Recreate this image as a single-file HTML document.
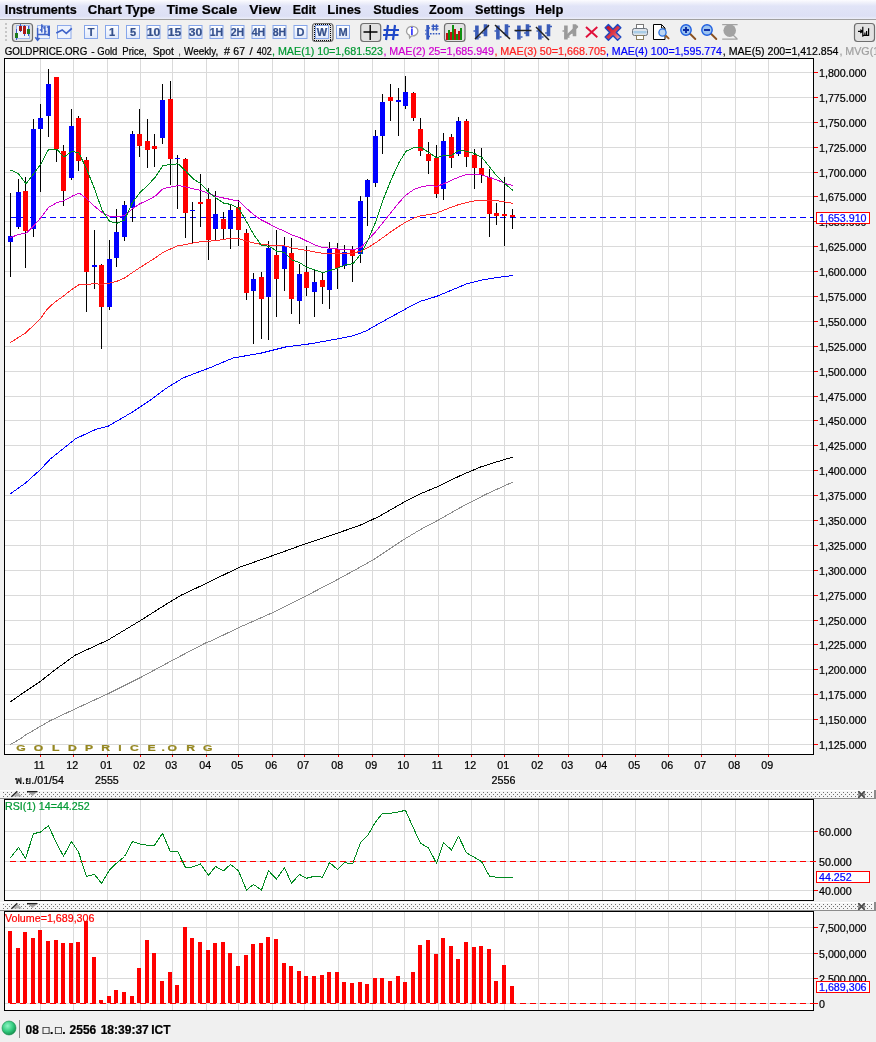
<!DOCTYPE html>
<html lang="th"><head><meta charset="utf-8"><title>GOLDPRICE.ORG - Gold Price, Spot, Weekly</title>
<style>html,body{margin:0;padding:0;background:#f0f0f0;overflow:hidden}svg{display:block}text{font-family:"Liberation Sans", "DejaVu Sans", sans-serif;stroke-width:.22px}</style>
</head><body>
<svg width="876" height="1042" viewBox="0 0 876 1042">
<defs>
<linearGradient id="mb" x1="0" y1="0" x2="0" y2="1"><stop offset="0" stop-color="#fcfcff"/><stop offset="0.12" stop-color="#f1f2fb"/><stop offset="0.32" stop-color="#e1e4f7"/><stop offset="0.85" stop-color="#dde0f5"/><stop offset="1" stop-color="#eceef9"/></linearGradient>
<linearGradient id="tb" x1="0" y1="0" x2="0" y2="1"><stop offset="0" stop-color="#ffffff"/><stop offset="1" stop-color="#dfe8fb"/></linearGradient>
<pattern id="dots790" x="3" y="792" width="4" height="4" patternUnits="userSpaceOnUse"><rect width="1" height="1" fill="#707070"/><rect x="2" y="2" width="1" height="1" fill="#707070"/></pattern>
<pattern id="dots902" x="3" y="904" width="4" height="4" patternUnits="userSpaceOnUse"><rect width="1" height="1" fill="#707070"/><rect x="2" y="2" width="1" height="1" fill="#707070"/></pattern>
<radialGradient id="ball" cx="0.4" cy="0.35" r="0.7"><stop offset="0" stop-color="#90f5c4"/><stop offset="0.55" stop-color="#34cc80"/><stop offset="1" stop-color="#128a48"/></radialGradient>
<linearGradient id="bigx" x1="0" y1="0.5" x2="1" y2="0.5"><stop offset="0" stop-color="#c40c1c"/><stop offset="0.6" stop-color="#e04050"/><stop offset="1" stop-color="#f4a0a8"/></linearGradient>
</defs>
<rect width="876" height="1042" fill="#f0f0f0"/>
<rect x="0" y="0" width="876" height="19" fill="url(#mb)"/>
<rect x="0" y="19" width="876" height="1" fill="#a0a0a0"/>
<text x="4.7" y="13.8" font-size="13" font-weight="bold" fill="#000" stroke="#000" textLength="72" lengthAdjust="spacingAndGlyphs">Instruments</text>
<text x="87.7" y="13.8" font-size="13" font-weight="bold" fill="#000" stroke="#000" textLength="67.3" lengthAdjust="spacingAndGlyphs">Chart Type</text>
<text x="166.7" y="13.8" font-size="13" font-weight="bold" fill="#000" stroke="#000" textLength="70.6" lengthAdjust="spacingAndGlyphs">Time Scale</text>
<text x="249.3" y="13.8" font-size="13" font-weight="bold" fill="#000" stroke="#000" textLength="31.4" lengthAdjust="spacingAndGlyphs">View</text>
<text x="292.7" y="13.8" font-size="13" font-weight="bold" fill="#000" stroke="#000" textLength="23.3" lengthAdjust="spacingAndGlyphs">Edit</text>
<text x="327.3" y="13.8" font-size="13" font-weight="bold" fill="#000" stroke="#000" textLength="33.7" lengthAdjust="spacingAndGlyphs">Lines</text>
<text x="373.3" y="13.8" font-size="13" font-weight="bold" fill="#000" stroke="#000" textLength="45.4" lengthAdjust="spacingAndGlyphs">Studies</text>
<text x="429" y="13.8" font-size="13" font-weight="bold" fill="#000" stroke="#000" textLength="34.3" lengthAdjust="spacingAndGlyphs">Zoom</text>
<text x="475" y="13.8" font-size="13" font-weight="bold" fill="#000" stroke="#000" textLength="50" lengthAdjust="spacingAndGlyphs">Settings</text>
<text x="535.3" y="13.8" font-size="13" font-weight="bold" fill="#000" stroke="#000" textLength="28" lengthAdjust="spacingAndGlyphs">Help</text>
<g shape-rendering="crispEdges">
<rect x="5" y="23" width="2" height="2" fill="#c6c6c6"/>
<rect x="5" y="27" width="2" height="2" fill="#c6c6c6"/>
<rect x="5" y="31" width="2" height="2" fill="#c6c6c6"/>
<rect x="5" y="35" width="2" height="2" fill="#c6c6c6"/>
<rect x="5" y="39" width="2" height="2" fill="#c6c6c6"/>
</g>
<rect x="12.5" y="23.5" width="20" height="18" rx="3" ry="3" fill="#e2e2e2" stroke="#6e6e6e" stroke-width="1.2"/>
<g shape-rendering="crispEdges">
<rect x="16" y="25" width="14" height="14" fill="#9db8ee"/>
<rect x="17" y="26" width="12" height="12" fill="#f0f4fc"/>
<rect x="16" y="29" width="1" height="11" fill="#3a5fcc"/>
<rect x="20" y="24" width="1" height="8" fill="#3a5fcc"/>
<rect x="24" y="25" width="1" height="11" fill="#3a5fcc"/>
<rect x="28" y="26" width="1" height="10" fill="#3a5fcc"/>
<rect x="15" y="33" width="3" height="5" fill="#1d7a1d"/>
<rect x="19" y="26" width="3" height="5" fill="#a01818"/>
<rect x="23" y="26" width="3" height="8" fill="#b01818"/>
<rect x="27" y="29" width="3" height="5" fill="#1d7a1d"/>
</g>
<rect x="37.5" y="25.5" width="12" height="13" fill="#eef3fd" stroke="#9db8ee" stroke-width="1"/>
<g fill="none" stroke="#3f63c8">
<path d="M37.6 28 V40 M35.3 37.3 L37.6 40.3 L39.6 38" stroke-width="1.5"/>
<path d="M41.8 24.3 V32.5 M39.8 30 H41.8 M41.8 26.5 H43.6 M44.9 26 V34 M43.3 28 H44.9 M44.9 31.5 H46.5" stroke-width="1.5"/>
<path d="M48.9 26 V36" stroke-width="2.2"/>
<path d="M38 34.5 H50 M46.8 27 H48.9" stroke-width="1.3"/>
</g>
<rect x="57.5" y="25.5" width="13.5" height="13" fill="#eef3fd" stroke="#8eaaea" stroke-width="1"/>
<path d="M56.3 33 L62.2 30 L66.3 33.4 L71.8 28.3" fill="none" stroke="#3f63c8" stroke-width="1.6"/>
<rect x="312.5" y="23.5" width="20.5" height="18" rx="3" ry="3" fill="#e2e2e2" stroke="#6e6e6e" stroke-width="1.2"/>
<rect x="84.5" y="25.5" width="13" height="13" fill="url(#tb)" stroke="#86a6ea" stroke-width="1"/>
<rect x="105.5" y="25.5" width="13" height="13" fill="url(#tb)" stroke="#86a6ea" stroke-width="1"/>
<rect x="126.5" y="25.5" width="13" height="13" fill="url(#tb)" stroke="#86a6ea" stroke-width="1"/>
<rect x="147" y="25.5" width="13" height="13" fill="url(#tb)" stroke="#86a6ea" stroke-width="1"/>
<rect x="168" y="25.5" width="13" height="13" fill="url(#tb)" stroke="#86a6ea" stroke-width="1"/>
<rect x="189" y="25.5" width="13" height="13" fill="url(#tb)" stroke="#86a6ea" stroke-width="1"/>
<rect x="210" y="25.5" width="13" height="13" fill="url(#tb)" stroke="#86a6ea" stroke-width="1"/>
<rect x="231" y="25.5" width="13" height="13" fill="url(#tb)" stroke="#86a6ea" stroke-width="1"/>
<rect x="252" y="25.5" width="13" height="13" fill="url(#tb)" stroke="#86a6ea" stroke-width="1"/>
<rect x="273" y="25.5" width="13" height="13" fill="url(#tb)" stroke="#86a6ea" stroke-width="1"/>
<rect x="294" y="25.5" width="13" height="13" fill="url(#tb)" stroke="#86a6ea" stroke-width="1"/>
<rect x="315.5" y="25.5" width="13" height="13" fill="url(#tb)" stroke="#86a6ea" stroke-width="1"/>
<rect x="336.5" y="25.5" width="13" height="13" fill="url(#tb)" stroke="#86a6ea" stroke-width="1"/>
<rect x="314.5" y="24.5" width="16" height="16" fill="none" stroke="#000" stroke-width="1" stroke-dasharray="1 1" shape-rendering="crispEdges"/>
<g font-size="11" font-weight="bold" fill="#34508c" stroke="#34508c" text-anchor="middle">
<text x="91" y="36.3">T</text>
<text x="112" y="36.3">1</text>
<text x="133" y="36.3">5</text>
<text x="153.5" y="36.3" textLength="13.5" lengthAdjust="spacingAndGlyphs">10</text>
<text x="174.5" y="36.3" textLength="13.5" lengthAdjust="spacingAndGlyphs">15</text>
<text x="195.5" y="36.3" textLength="13.5" lengthAdjust="spacingAndGlyphs">30</text>
<text x="216.5" y="36.3" textLength="13.5" lengthAdjust="spacingAndGlyphs">1H</text>
<text x="237.5" y="36.3" textLength="13.5" lengthAdjust="spacingAndGlyphs">2H</text>
<text x="258.5" y="36.3" textLength="13.5" lengthAdjust="spacingAndGlyphs">4H</text>
<text x="279.5" y="36.3" textLength="13.5" lengthAdjust="spacingAndGlyphs">8H</text>
<text x="300.5" y="36.3">D</text>
<text x="322" y="36.3">W</text>
<text x="343" y="36.3">M</text>
</g>
<rect x="360.7" y="23.5" width="20" height="18" rx="3" ry="3" fill="#e2e2e2" stroke="#6e6e6e" stroke-width="1.2"/>
<path d="M370.2 25 V40 M363.5 32 H377.5" stroke="#000" stroke-width="1.4" fill="none"/>
<path d="M388 25 L386 40 M395 25 L393 40 M383.5 30 H399 M383 35 H398.5" stroke="#1f48c8" stroke-width="2.2" fill="none"/>
<path d="M412.3 26.3 a5.6 4.8 0 1 1 -0.8 9.55 L409.6 38 L409.3 35.2 a5.6 4.8 0 0 1 3 -8.9z" fill="#fff" stroke="#a0a0a0" stroke-width="1.3"/>
<text x="412" y="34.8" font-size="10" font-weight="bold" fill="#1a1aff" stroke="#1a1aff" text-anchor="middle">i</text>
<path d="M427.7 25 V39.6" stroke="#3458c0" stroke-width="2.8" fill="none"/>
<path d="M425.3 30.5 h1 M425.3 34 h1 M429 28 h1 M429 36.5 h1" stroke="#3458c0" stroke-width="1.5"/>
<path d="M433.3 24.2 V30.8 M436.5 24.2 V30.8 M431.5 26.3 H438.5 M431.5 28.9 H438.5" stroke="#3458c0" stroke-width="1.4" fill="none"/>
<path d="M430 33.8 H441" stroke="#3458c0" stroke-width="1.6" stroke-dasharray="1.6 1.2" fill="none"/>
<rect x="444.5" y="23.5" width="20.5" height="18" rx="3" ry="3" fill="#e2e2e2" stroke="#6e6e6e" stroke-width="1.2"/>
<g shape-rendering="crispEdges">
<rect x="446" y="33" width="2" height="7" fill="#c01010"/>
<rect x="448" y="30" width="2" height="10" fill="#109010"/>
<rect x="450" y="32" width="2" height="8" fill="#c01010"/>
<rect x="452" y="25" width="2" height="15" fill="#109010"/>
<rect x="454" y="29" width="2" height="11" fill="#c01010"/>
<rect x="456" y="34" width="2" height="6" fill="#109010"/>
<rect x="458" y="31" width="2" height="9" fill="#c01010"/>
<rect x="460" y="28" width="2" height="12" fill="#109010"/>
</g>
<path d="M476.9 25.5 V39.5 M485.5 24.3 V36.3" stroke="#3a5cb8" stroke-width="3.6" fill="none"/>
<path d="M473.5 31 h2 M478.5 37 h2 M487 26.5 h2 M482.1 33 h2" stroke="#3a5cb8" stroke-width="1.7" fill="none"/>
<path d="M475 39 L489 25" stroke="#222" stroke-width="1.5"/>
<path d="M497.9 25.5 V39.5 M506.5 24.3 V36.3" stroke="#3a5cb8" stroke-width="3.6" fill="none"/>
<path d="M494.5 31 h2 M499.5 37 h2 M508 26.5 h2 M503.1 33 h2" stroke="#3a5cb8" stroke-width="1.7" fill="none"/>
<path d="M495 25 L510 39" stroke="#222" stroke-width="1.5"/>
<path d="M518.9 25.5 V39.5 M527.5 24.3 V36.3" stroke="#3a5cb8" stroke-width="3.6" fill="none"/>
<path d="M515.5 31 h2 M520.5 37 h2 M529 26.5 h2 M524.1 33 h2" stroke="#3a5cb8" stroke-width="1.7" fill="none"/>
<path d="M514.5 30.5 H531.5" stroke="#222" stroke-width="1.5"/>
<path d="M539.9 25.5 V39.5 M548.5 24.3 V36.3" stroke="#3a5cb8" stroke-width="3.6" fill="none"/>
<path d="M536.5 31 h2 M541.5 37 h2 M550 26.5 h2 M545.1 33 h2" stroke="#3a5cb8" stroke-width="1.7" fill="none"/>
<path d="M536 27 L549 40" stroke="#222" stroke-width="1.5"/>
<path d="M565.9 25.5 V39.5 M574.5 24.3 V36.3" stroke="#9a9a9a" stroke-width="3.6" fill="none"/>
<path d="M562.5 31 h2 M567.5 37 h2 M576 26.5 h2 M571.1 33 h2" stroke="#9a9a9a" stroke-width="1.7" fill="none"/>
<path d="M565 38 L577.5 26" stroke="#9a9a9a" stroke-width="2.6"/>
<path d="M586 27 L597.3 37.3 M597.3 27 L586 37.3" stroke="#e0103a" stroke-width="1.9" fill="none"/>
<polygon transform="translate(613 32.4) rotate(45)" points="-2.3,-8.8 2.3,-8.8 2.3,-2.3 8.8,-2.3 8.8,2.3 2.3,2.3 2.3,8.8 -2.3,8.8 -2.3,2.3 -8.8,2.3 -8.8,-2.3 -2.3,-2.3" fill="url(#bigx)" stroke="#1f48c0" stroke-width="1.4" stroke-linejoin="round"/>
<rect x="636.5" y="24.5" width="7" height="5" fill="#fff" stroke="#777" stroke-width="1"/>
<rect x="632.5" y="28.5" width="15" height="7" rx="2" fill="#dde3ea" stroke="#6a737c" stroke-width="1"/>
<rect x="633.5" y="31" width="13" height="2.4" fill="#a9cde6"/>
<rect x="636.5" y="35.5" width="7" height="4" fill="#fff" stroke="#8a8060" stroke-width="1"/>
<path d="M653.5 24.5 H661.5 L665 28 V39.5 H653.5 Z" fill="#fff" stroke="#000" stroke-width="1"/>
<path d="M661.5 24.5 V28 H665" fill="none" stroke="#000" stroke-width="0.9"/>
<path d="M665.3 35.3 L668.6 38.4" stroke="#9a5a20" stroke-width="1.9" stroke-linecap="round"/>
<circle cx="662.5" cy="32.5" r="3.6" fill="#bcd6f2" stroke="#2a70e0" stroke-width="1.3"/>
<path d="M689.8 33.5 L695.3 39" stroke="#8a5020" stroke-width="1.9" stroke-linecap="round"/>
<circle cx="686" cy="30" r="5.2" fill="#9cc4f0" stroke="#1f5fe0" stroke-width="1.4"/>
<path d="M683 30 h6 M686 27 v6" stroke="#0a2aa0" stroke-width="1.9"/>
<path d="M710.8 33.5 L716.3 39" stroke="#8a5020" stroke-width="1.9" stroke-linecap="round"/>
<circle cx="707" cy="30" r="5.2" fill="#9cc4f0" stroke="#1f5fe0" stroke-width="1.4"/>
<path d="M704 30 h6" stroke="#0a2aa0" stroke-width="1.9"/>
<circle cx="729.7" cy="30.6" r="6.3" fill="#a2a2a2"/>
<path d="M722.2 24.6 H737.6 M722.2 39.2 H737.6 M732.5 34.5 L737.3 39" stroke="#a2a2a2" stroke-width="1.2" fill="none"/>
<rect x="854.5" y="23.5" width="20" height="18" rx="3" ry="3" fill="#e2e2e2" stroke="#6e6e6e" stroke-width="1.2"/>
<path d="M858 31.3 H862.6 M860.3 29.6 L862.4 31.3 L860.3 33 M862.8 26.7 V36.7 M864.9 32.5 V35.6 M866.6 31 V35.6 M868.6 28.3 V35.6 M863 35.3 H869.2" stroke="#000" stroke-width="1.2" fill="none"/>
<g font-size="10.7">
<text x="4.7" y="55" fill="#000" stroke="#000" textLength="82.6" lengthAdjust="spacingAndGlyphs">GOLDPRICE.ORG</text>
<text x="91.3" y="55" fill="#000" stroke="#000" textLength="3.4" lengthAdjust="spacingAndGlyphs">-</text>
<text x="97.3" y="55" fill="#000" stroke="#000" textLength="20" lengthAdjust="spacingAndGlyphs">Gold</text>
<text x="122.3" y="55" fill="#000" stroke="#000" textLength="24.4" lengthAdjust="spacingAndGlyphs">Price,</text>
<text x="152.7" y="55" fill="#000" stroke="#000" textLength="21.3" lengthAdjust="spacingAndGlyphs">Spot</text>
<text x="179" y="55" fill="#000" stroke="#000" textLength="1.5" lengthAdjust="spacingAndGlyphs">,</text>
<text x="184" y="55" fill="#000" stroke="#000" textLength="34.3" lengthAdjust="spacingAndGlyphs">Weekly,</text>
<text x="224" y="55" fill="#000" stroke="#000" textLength="6" lengthAdjust="spacingAndGlyphs">#</text>
<text x="233.3" y="55" fill="#000" stroke="#000" textLength="11.7" lengthAdjust="spacingAndGlyphs">67</text>
<text x="249.6" y="55" fill="#000" stroke="#000" textLength="3.2" lengthAdjust="spacingAndGlyphs">/</text>
<text x="256.7" y="55" fill="#000" stroke="#000" textLength="15" lengthAdjust="spacingAndGlyphs">402</text>
<text x="272" y="55" fill="#009933" stroke="#009933" textLength="111" lengthAdjust="spacingAndGlyphs">, MAE(1) 10=1,681.523</text>
<text x="383.4" y="55" fill="#d000d0" stroke="#d000d0" textLength="110.6" lengthAdjust="spacingAndGlyphs">, MAE(2) 25=1,685.949</text>
<text x="494.4" y="55" fill="#ff2020" stroke="#ff2020" textLength="111.6" lengthAdjust="spacingAndGlyphs">, MAE(3) 50=1,668.705</text>
<text x="605.9" y="55" fill="#0000ff" stroke="#0000ff" textLength="116.1" lengthAdjust="spacingAndGlyphs">, MAE(4) 100=1,595.774</text>
<text x="722.8" y="55" fill="#000" stroke="#000" textLength="115.7" lengthAdjust="spacingAndGlyphs">, MAE(5) 200=1,412.854</text>
<text x="839.4" y="55" fill="#a0a0a0" stroke="#a0a0a0">, MVG(1</text>
</g>
<g shape-rendering="crispEdges">
<rect x="5" y="59" width="808" height="695" fill="#fff"/>
<rect x="40" y="59" width="1" height="695" fill="#dadada"/>
<rect x="73" y="59" width="1" height="695" fill="#dadada"/>
<rect x="107" y="59" width="1" height="695" fill="#dadada"/>
<rect x="140" y="59" width="1" height="695" fill="#dadada"/>
<rect x="172" y="59" width="1" height="695" fill="#dadada"/>
<rect x="206" y="59" width="1" height="695" fill="#dadada"/>
<rect x="238" y="59" width="1" height="695" fill="#dadada"/>
<rect x="272" y="59" width="1" height="695" fill="#dadada"/>
<rect x="304" y="59" width="1" height="695" fill="#dadada"/>
<rect x="338" y="59" width="1" height="695" fill="#dadada"/>
<rect x="372" y="59" width="1" height="695" fill="#dadada"/>
<rect x="404" y="59" width="1" height="695" fill="#dadada"/>
<rect x="438" y="59" width="1" height="695" fill="#dadada"/>
<rect x="471" y="59" width="1" height="695" fill="#dadada"/>
<rect x="504" y="59" width="1" height="695" fill="#dadada"/>
<rect x="538" y="59" width="1" height="695" fill="#dadada"/>
<rect x="568" y="59" width="1" height="695" fill="#dadada"/>
<rect x="602" y="59" width="1" height="695" fill="#dadada"/>
<rect x="635" y="59" width="1" height="695" fill="#dadada"/>
<rect x="668" y="59" width="1" height="695" fill="#dadada"/>
<rect x="701" y="59" width="1" height="695" fill="#dadada"/>
<rect x="735" y="59" width="1" height="695" fill="#dadada"/>
<rect x="768" y="59" width="1" height="695" fill="#dadada"/>
<rect x="5" y="72" width="808" height="1" fill="#dadada"/>
<rect x="5" y="97" width="808" height="1" fill="#dadada"/>
<rect x="5" y="122" width="808" height="1" fill="#dadada"/>
<rect x="5" y="147" width="808" height="1" fill="#dadada"/>
<rect x="5" y="172" width="808" height="1" fill="#dadada"/>
<rect x="5" y="196" width="808" height="1" fill="#dadada"/>
<rect x="5" y="221" width="808" height="1" fill="#dadada"/>
<rect x="5" y="246" width="808" height="1" fill="#dadada"/>
<rect x="5" y="271" width="808" height="1" fill="#dadada"/>
<rect x="5" y="296" width="808" height="1" fill="#dadada"/>
<rect x="5" y="321" width="808" height="1" fill="#dadada"/>
<rect x="5" y="346" width="808" height="1" fill="#dadada"/>
<rect x="5" y="371" width="808" height="1" fill="#dadada"/>
<rect x="5" y="396" width="808" height="1" fill="#dadada"/>
<rect x="5" y="420" width="808" height="1" fill="#dadada"/>
<rect x="5" y="445" width="808" height="1" fill="#dadada"/>
<rect x="5" y="470" width="808" height="1" fill="#dadada"/>
<rect x="5" y="495" width="808" height="1" fill="#dadada"/>
<rect x="5" y="520" width="808" height="1" fill="#dadada"/>
<rect x="5" y="545" width="808" height="1" fill="#dadada"/>
<rect x="5" y="570" width="808" height="1" fill="#dadada"/>
<rect x="5" y="595" width="808" height="1" fill="#dadada"/>
<rect x="5" y="620" width="808" height="1" fill="#dadada"/>
<rect x="5" y="644" width="808" height="1" fill="#dadada"/>
<rect x="5" y="669" width="808" height="1" fill="#dadada"/>
<rect x="5" y="694" width="808" height="1" fill="#dadada"/>
<rect x="5" y="719" width="808" height="1" fill="#dadada"/>
<rect x="5" y="744" width="808" height="1" fill="#dadada"/>
</g>
<line x1="10" y1="217.5" x2="813" y2="217.5" stroke="#0000ff" stroke-width="1" stroke-dasharray="6 4" shape-rendering="crispEdges"/>
<g id="candles" shape-rendering="crispEdges">
<rect x="10" y="193" width="1" height="84" fill="#000"/>
<rect x="8" y="236" width="5" height="6" fill="#0000ff"/>
<rect x="18" y="179" width="1" height="50" fill="#000"/>
<rect x="16" y="192" width="5" height="35" fill="#0000ff"/>
<rect x="25" y="177" width="1" height="91" fill="#000"/>
<rect x="23" y="191" width="5" height="40" fill="#ff0000"/>
<rect x="33" y="119" width="1" height="118" fill="#000"/>
<rect x="31" y="129" width="5" height="100" fill="#0000ff"/>
<rect x="40" y="104" width="1" height="88" fill="#000"/>
<rect x="38" y="118" width="5" height="11" fill="#0000ff"/>
<rect x="48" y="69" width="1" height="68" fill="#000"/>
<rect x="46" y="84" width="5" height="32" fill="#0000ff"/>
<rect x="56" y="77" width="1" height="85" fill="#000"/>
<rect x="54" y="77" width="5" height="72" fill="#ff0000"/>
<rect x="63" y="145" width="1" height="61" fill="#000"/>
<rect x="61" y="151" width="5" height="40" fill="#ff0000"/>
<rect x="71" y="109" width="1" height="71" fill="#000"/>
<rect x="69" y="126" width="5" height="52" fill="#0000ff"/>
<rect x="78" y="116" width="1" height="55" fill="#000"/>
<rect x="76" y="118" width="5" height="43" fill="#ff0000"/>
<rect x="86" y="157" width="1" height="155" fill="#000"/>
<rect x="84" y="160" width="5" height="112" fill="#ff0000"/>
<rect x="94" y="230" width="1" height="59" fill="#000"/>
<rect x="92" y="265" width="5" height="2" fill="#0000ff"/>
<rect x="101" y="264" width="1" height="85" fill="#000"/>
<rect x="99" y="265" width="5" height="42" fill="#ff0000"/>
<rect x="109" y="240" width="1" height="70" fill="#000"/>
<rect x="107" y="259" width="5" height="48" fill="#0000ff"/>
<rect x="116" y="209" width="1" height="58" fill="#000"/>
<rect x="114" y="232" width="5" height="26" fill="#0000ff"/>
<rect x="124" y="201" width="1" height="40" fill="#000"/>
<rect x="122" y="205" width="5" height="32" fill="#0000ff"/>
<rect x="132" y="131" width="1" height="91" fill="#000"/>
<rect x="130" y="134" width="5" height="74" fill="#0000ff"/>
<rect x="139" y="109" width="1" height="48" fill="#000"/>
<rect x="137" y="134" width="5" height="12" fill="#ff0000"/>
<rect x="147" y="119" width="1" height="49" fill="#000"/>
<rect x="145" y="141" width="5" height="9" fill="#ff0000"/>
<rect x="154" y="134" width="1" height="33" fill="#000"/>
<rect x="152" y="146" width="5" height="3" fill="#ff0000"/>
<rect x="162" y="84" width="1" height="60" fill="#000"/>
<rect x="160" y="100" width="5" height="38" fill="#0000ff"/>
<rect x="170" y="81" width="1" height="104" fill="#000"/>
<rect x="168" y="99" width="5" height="60" fill="#ff0000"/>
<rect x="177" y="155" width="1" height="54" fill="#000"/>
<rect x="175" y="158" width="5" height="1" fill="#0000ff"/>
<rect x="185" y="158" width="1" height="80" fill="#000"/>
<rect x="183" y="159" width="5" height="54" fill="#ff0000"/>
<rect x="192" y="202" width="1" height="42" fill="#000"/>
<rect x="190" y="210" width="5" height="1" fill="#0000ff"/>
<rect x="200" y="174" width="1" height="53" fill="#000"/>
<rect x="198" y="202" width="5" height="2" fill="#ff0000"/>
<rect x="208" y="188" width="1" height="72" fill="#000"/>
<rect x="206" y="199" width="5" height="41" fill="#ff0000"/>
<rect x="215" y="191" width="1" height="49" fill="#000"/>
<rect x="213" y="214" width="5" height="15" fill="#0000ff"/>
<rect x="223" y="212" width="1" height="28" fill="#000"/>
<rect x="221" y="219" width="5" height="10" fill="#ff0000"/>
<rect x="230" y="205" width="1" height="44" fill="#000"/>
<rect x="228" y="210" width="5" height="19" fill="#0000ff"/>
<rect x="238" y="200" width="1" height="46" fill="#000"/>
<rect x="236" y="207" width="5" height="23" fill="#ff0000"/>
<rect x="246" y="229" width="1" height="71" fill="#000"/>
<rect x="244" y="233" width="5" height="60" fill="#ff0000"/>
<rect x="253" y="273" width="1" height="71" fill="#000"/>
<rect x="251" y="279" width="5" height="12" fill="#0000ff"/>
<rect x="261" y="272" width="1" height="67" fill="#000"/>
<rect x="259" y="277" width="5" height="22" fill="#ff0000"/>
<rect x="268" y="241" width="1" height="99" fill="#000"/>
<rect x="266" y="248" width="5" height="49" fill="#0000ff"/>
<rect x="276" y="230" width="1" height="87" fill="#000"/>
<rect x="274" y="255" width="5" height="24" fill="#ff0000"/>
<rect x="284" y="237" width="1" height="54" fill="#000"/>
<rect x="282" y="246" width="5" height="23" fill="#0000ff"/>
<rect x="291" y="238" width="1" height="76" fill="#000"/>
<rect x="289" y="253" width="5" height="46" fill="#ff0000"/>
<rect x="299" y="264" width="1" height="60" fill="#000"/>
<rect x="297" y="274" width="5" height="27" fill="#0000ff"/>
<rect x="306" y="246" width="1" height="50" fill="#000"/>
<rect x="304" y="272" width="5" height="16" fill="#ff0000"/>
<rect x="314" y="270" width="1" height="47" fill="#000"/>
<rect x="312" y="282" width="5" height="10" fill="#0000ff"/>
<rect x="322" y="272" width="1" height="32" fill="#000"/>
<rect x="320" y="280" width="5" height="7" fill="#ff0000"/>
<rect x="329" y="242" width="1" height="67" fill="#000"/>
<rect x="327" y="249" width="5" height="41" fill="#0000ff"/>
<rect x="337" y="243" width="1" height="46" fill="#000"/>
<rect x="335" y="249" width="5" height="19" fill="#ff0000"/>
<rect x="344" y="245" width="1" height="24" fill="#000"/>
<rect x="342" y="252" width="5" height="14" fill="#0000ff"/>
<rect x="352" y="246" width="1" height="36" fill="#000"/>
<rect x="350" y="250" width="5" height="6" fill="#ff0000"/>
<rect x="360" y="196" width="1" height="67" fill="#000"/>
<rect x="358" y="201" width="5" height="53" fill="#0000ff"/>
<rect x="367" y="179" width="1" height="47" fill="#000"/>
<rect x="365" y="180" width="5" height="17" fill="#0000ff"/>
<rect x="375" y="130" width="1" height="57" fill="#000"/>
<rect x="373" y="136" width="5" height="47" fill="#0000ff"/>
<rect x="382" y="94" width="1" height="60" fill="#000"/>
<rect x="380" y="102" width="5" height="34" fill="#0000ff"/>
<rect x="390" y="84" width="1" height="37" fill="#000"/>
<rect x="388" y="97" width="5" height="4" fill="#ff0000"/>
<rect x="398" y="88" width="1" height="48" fill="#000"/>
<rect x="396" y="100" width="5" height="2" fill="#0000ff"/>
<rect x="405" y="76" width="1" height="33" fill="#000"/>
<rect x="403" y="92" width="5" height="14" fill="#0000ff"/>
<rect x="413" y="92" width="1" height="29" fill="#000"/>
<rect x="411" y="93" width="5" height="25" fill="#ff0000"/>
<rect x="420" y="118" width="1" height="38" fill="#000"/>
<rect x="418" y="129" width="5" height="22" fill="#ff0000"/>
<rect x="428" y="142" width="1" height="32" fill="#000"/>
<rect x="426" y="154" width="5" height="7" fill="#ff0000"/>
<rect x="436" y="145" width="1" height="53" fill="#000"/>
<rect x="434" y="158" width="5" height="36" fill="#ff0000"/>
<rect x="443" y="133" width="1" height="67" fill="#000"/>
<rect x="441" y="141" width="5" height="48" fill="#0000ff"/>
<rect x="451" y="134" width="1" height="34" fill="#000"/>
<rect x="449" y="137" width="5" height="21" fill="#ff0000"/>
<rect x="458" y="117" width="1" height="39" fill="#000"/>
<rect x="456" y="121" width="5" height="33" fill="#0000ff"/>
<rect x="466" y="119" width="1" height="48" fill="#000"/>
<rect x="464" y="121" width="5" height="36" fill="#ff0000"/>
<rect x="474" y="149" width="1" height="40" fill="#000"/>
<rect x="472" y="155" width="5" height="13" fill="#ff0000"/>
<rect x="481" y="148" width="1" height="35" fill="#000"/>
<rect x="479" y="168" width="5" height="7" fill="#ff0000"/>
<rect x="489" y="169" width="1" height="68" fill="#000"/>
<rect x="487" y="177" width="5" height="37" fill="#ff0000"/>
<rect x="496" y="203" width="1" height="22" fill="#000"/>
<rect x="494" y="213" width="5" height="3" fill="#ff0000"/>
<rect x="504" y="177" width="1" height="69" fill="#000"/>
<rect x="502" y="214" width="5" height="2" fill="#ff0000"/>
<rect x="512" y="209" width="1" height="20" fill="#000"/>
<rect x="510" y="215" width="5" height="2" fill="#ff0000"/>
</g>
<g id="ma">
<polyline fill="none" stroke="#8c8c8c" stroke-width="1" stroke-linejoin="round" shape-rendering="crispEdges" points="10.5,744.5 20.5,738.75 25.5,735 50.5,720.5 75.5,708.75 108,693.75 140.5,677.5 173,660 205.5,643 210.5,641.25 239,627.5 273,612.5 305.5,596.25 339,578.75 373,560 403,540 420.5,529.5 438.5,520 460.5,507.5 485.5,494.5 513,482"/>
<polyline fill="none" stroke="#000" stroke-width="1" stroke-linejoin="round" shape-rendering="crispEdges" points="10.5,701.75 25.5,691.25 40.5,681.25 55.5,669.5 75.5,655 108,640 140.5,620.5 163,606.25 180.5,595.5 205.5,583.75 210.5,581.25 239,567.5 273,555.5 305.5,543.75 338,533 360.5,525 378,517 405.5,501.25 420.5,493.75 438.5,486.25 460.5,475.5 480.5,467 498,461.5 513,457"/>
<polyline fill="none" stroke="#0000ff" stroke-width="1" stroke-linejoin="round" shape-rendering="crispEdges" points="10.5,493.75 25.5,483 40.5,469.5 50.5,458.75 75.5,438.75 95.5,429.5 108,426.25 133,411.75 150.5,400 165.5,388.75 183,378 200.5,371.25 210.5,367.5 233,358 260.5,353.25 285.5,347 310.5,343.75 338,338.75 353,335.75 365.5,331.25 385.5,320 410.5,306.25 420.5,301.25 437,296.25 452,290 467,283.75 482,280 497,277.5 513,275.5"/>
<polyline fill="none" stroke="#ff2a2a" stroke-width="1" stroke-linejoin="round" shape-rendering="crispEdges" points="10.5,342.5 25.5,333 40.5,318.75 46.5,310 53.8,303 63.8,295.8 72.2,289.2 78.8,284.7 87,284.25 94.5,283.75 102,284.25 109.5,283.25 117,281.25 124.5,278 132.5,272.5 140,267.5 148,262.5 155,258 163,252.5 171,248.75 178,245.75 186,244.5 193,243 201,241.75 209,241.25 216,240.5 223.5,239.5 231,238.25 239,238.75 247,241.25 254,243 261.5,244.5 269,245 277,245.5 284.5,245.75 292,248 299.5,249.25 307,250.5 315,252 323,253.25 330,253.25 338,253.25 345,253.25 353,253 361,251.25 368,247.5 376,242.5 383,237.5 391,231.75 399,226.25 406,222 414,218 421,215.75 429,214.5 437,213 444,210 452,207 459,204.5 467,202.5 475,200.75 482,200 490,200.5 497,200.75 505,202 513,203.25"/>
<polyline fill="none" stroke="#d000d0" stroke-width="1" stroke-linejoin="round" shape-rendering="crispEdges" points="10.5,237.5 18.5,234.5 26,233.25 33.5,226.25 41,217.5 48.5,207.5 57,202.5 64,200.75 72,196.25 79,193 87,198.75 94.5,206.25 102,212.5 109.5,216.25 117,217 124.5,215.5 132.5,208.75 140,203.75 148,200 155,196.25 163,188.75 171,187 178,185.5 186,187 193,188.75 201,190.5 209,193.75 216,196.25 223.5,198 231,199.5 239,201.25 247,208.75 254,215 261.5,220 269,223.75 277,228 284.5,231.25 292,235 299.5,237.5 307,241.25 315,245 323,247.5 330,248.25 338,249 345,249.5 353,250 361,247.5 368,240 376,231.25 383,222.5 391,212.5 399,202.5 406,195 414,189.5 421,187 429,185.5 437,186.25 444,183.75 452,180 459,177 467,174.25 475,174.25 482,175 490,177.5 497,180 505,183.25 513,185.75"/>
<polyline fill="none" stroke="#008a20" stroke-width="1" stroke-linejoin="round" shape-rendering="crispEdges" points="10.5,170 18.5,173.75 26,183.75 33.5,174 41,164 48.5,149.5 57,149.5 64,157 72,151.25 79,153 87,170 94.5,188.75 102,210 109.5,221.25 117,223.25 124.5,220 132.5,202.5 140,192.5 148,185 155,177.5 163,165.5 171,164.5 178,163.75 186,171.25 193,178.75 201,183.75 209,192.5 216,198 223.5,203 231,204.5 239,208.3 247,222.5 254,235 261.5,245.5 269,246.25 277,251.25 284.5,252.5 292,260 299.5,262.5 307,267.5 315,270 323,272.5 330,270.5 338,268 345,265 353,263.75 361,253.75 368,240 376,221.25 383,200 391,180 399,162.5 406,151.25 414,147.5 421,147.5 429,152.5 437,158 444,155 452,155 459,150 467,151.25 475,153.75 482,157.5 490,167.5 497,176.25 505,183.75 513,190.5"/>
</g>
<text transform="scale(1.45,1)" x="11.21 23.28 35.86 46.90 58.62 69.83 81.55 89.66 101.72 111.38 115.52 128.45 140.00" y="751.3" font-size="8.4" font-weight="bold" fill="#958720" stroke="#958720">GOLDPRICE.ORG</text>
<g shape-rendering="crispEdges" fill="#000">
<rect x="4" y="58" width="810" height="1"/><rect x="4" y="58" width="1" height="697"/><rect x="813" y="58" width="1" height="697"/><rect x="4" y="754" width="810" height="1"/>
</g>
<g shape-rendering="crispEdges" fill="#ff0000">
<rect x="814" y="72" width="4" height="1"/>
<rect x="814" y="97" width="4" height="1"/>
<rect x="814" y="122" width="4" height="1"/>
<rect x="814" y="147" width="4" height="1"/>
<rect x="814" y="172" width="4" height="1"/>
<rect x="814" y="196" width="4" height="1"/>
<rect x="814" y="221" width="4" height="1"/>
<rect x="814" y="246" width="4" height="1"/>
<rect x="814" y="271" width="4" height="1"/>
<rect x="814" y="296" width="4" height="1"/>
<rect x="814" y="321" width="4" height="1"/>
<rect x="814" y="346" width="4" height="1"/>
<rect x="814" y="371" width="4" height="1"/>
<rect x="814" y="396" width="4" height="1"/>
<rect x="814" y="420" width="4" height="1"/>
<rect x="814" y="445" width="4" height="1"/>
<rect x="814" y="470" width="4" height="1"/>
<rect x="814" y="495" width="4" height="1"/>
<rect x="814" y="520" width="4" height="1"/>
<rect x="814" y="545" width="4" height="1"/>
<rect x="814" y="570" width="4" height="1"/>
<rect x="814" y="595" width="4" height="1"/>
<rect x="814" y="620" width="4" height="1"/>
<rect x="814" y="644" width="4" height="1"/>
<rect x="814" y="669" width="4" height="1"/>
<rect x="814" y="694" width="4" height="1"/>
<rect x="814" y="719" width="4" height="1"/>
<rect x="814" y="744" width="4" height="1"/>
<rect x="40" y="755" width="1" height="2"/>
<rect x="73" y="755" width="1" height="2"/>
<rect x="107" y="755" width="1" height="2"/>
<rect x="140" y="755" width="1" height="2"/>
<rect x="172" y="755" width="1" height="2"/>
<rect x="206" y="755" width="1" height="2"/>
<rect x="238" y="755" width="1" height="2"/>
<rect x="272" y="755" width="1" height="2"/>
<rect x="304" y="755" width="1" height="2"/>
<rect x="338" y="755" width="1" height="2"/>
<rect x="372" y="755" width="1" height="2"/>
<rect x="404" y="755" width="1" height="2"/>
<rect x="438" y="755" width="1" height="2"/>
<rect x="471" y="755" width="1" height="2"/>
<rect x="504" y="755" width="1" height="2"/>
<rect x="538" y="755" width="1" height="2"/>
<rect x="568" y="755" width="1" height="2"/>
<rect x="602" y="755" width="1" height="2"/>
<rect x="635" y="755" width="1" height="2"/>
<rect x="668" y="755" width="1" height="2"/>
<rect x="701" y="755" width="1" height="2"/>
<rect x="735" y="755" width="1" height="2"/>
<rect x="768" y="755" width="1" height="2"/>
</g>
<g font-size="10.7" fill="#000" stroke="#000">
<text x="819" y="77.1">1,800.000</text>
<text x="819" y="102.1">1,775.000</text>
<text x="819" y="127.1">1,750.000</text>
<text x="819" y="152.1">1,725.000</text>
<text x="819" y="177.1">1,700.000</text>
<text x="819" y="201.1">1,675.000</text>
<text x="819" y="251.1">1,625.000</text>
<text x="819" y="276.1">1,600.000</text>
<text x="819" y="301.1">1,575.000</text>
<text x="819" y="326.1">1,550.000</text>
<text x="819" y="351.1">1,525.000</text>
<text x="819" y="376.1">1,500.000</text>
<text x="819" y="401.1">1,475.000</text>
<text x="819" y="425.1">1,450.000</text>
<text x="819" y="450.1">1,425.000</text>
<text x="819" y="475.1">1,400.000</text>
<text x="819" y="500.1">1,375.000</text>
<text x="819" y="525.1">1,350.000</text>
<text x="819" y="550.1">1,325.000</text>
<text x="819" y="575.1">1,300.000</text>
<text x="819" y="600.1">1,275.000</text>
<text x="819" y="625.1">1,250.000</text>
<text x="819" y="649.1">1,225.000</text>
<text x="819" y="674.1">1,200.000</text>
<text x="819" y="699.1">1,175.000</text>
<text x="819" y="724.1">1,150.000</text>
<text x="819" y="749.1">1,125.000</text>
<text x="819" y="226.1">1,650.000</text>
</g>
<rect x="816.5" y="212.5" width="53" height="11" fill="#fff" stroke="#ff0000" stroke-width="1" shape-rendering="crispEdges"/>
<text x="819" y="221.8" font-size="10.7" fill="#0000ff" stroke="#0000ff">1,653.910</text>
<g font-size="10.7" fill="#000" stroke="#000" text-anchor="middle">
<text x="39.2" y="768.8">11</text>
<text x="72.2" y="768.8">12</text>
<text x="106.2" y="768.8">01</text>
<text x="139.2" y="768.8">02</text>
<text x="171.2" y="768.8">03</text>
<text x="205.2" y="768.8">04</text>
<text x="237.2" y="768.8">05</text>
<text x="271.2" y="768.8">06</text>
<text x="303.2" y="768.8">07</text>
<text x="337.2" y="768.8">08</text>
<text x="371.2" y="768.8">09</text>
<text x="403.2" y="768.8">10</text>
<text x="437.2" y="768.8">11</text>
<text x="470.2" y="768.8">12</text>
<text x="503.2" y="768.8">01</text>
<text x="537.2" y="768.8">02</text>
<text x="567.2" y="768.8">03</text>
<text x="601.2" y="768.8">04</text>
<text x="634.2" y="768.8">05</text>
<text x="667.2" y="768.8">06</text>
<text x="700.2" y="768.8">07</text>
<text x="734.2" y="768.8">08</text>
<text x="767.2" y="768.8">09</text>
</g>
<text x="15" y="784" font-size="10.7" fill="#000" stroke="#000" style="font-family:'Liberation Sans','Loma','DejaVu Sans',sans-serif">พ.ย./01/54</text>
<text x="95" y="783.7" font-size="10.7" fill="#000" stroke="#000">2555</text>
<text x="491.6" y="783.7" font-size="10.7" fill="#000" stroke="#000">2556</text>
<g shape-rendering="crispEdges">
<rect x="0" y="790" width="875" height="8" fill="#f6f6f6"/>
<rect x="0" y="790" width="875" height="1" fill="#ffffff"/>
<rect x="3" y="792" width="870" height="5" fill="url(#dots790)"/>
<rect x="0" y="798" width="876" height="1" fill="#8c8c8c"/>
<rect x="874" y="790" width="2" height="9" fill="#8c8c8c"/>
</g>
<polygon points="13,796.5 17.5,792 22,796.5" fill="#b0b0b0"/>
<line x1="11.5" y1="796.8" x2="17.3" y2="791.3" stroke="#222" stroke-width="1.2"/>
<polygon points="28,792 37,792 32.5,796" fill="#a0a0a0"/>
<line x1="27" y1="791.6" x2="37.5" y2="791.6" stroke="#222" stroke-width="1.3"/>
<rect x="858" y="791" width="7" height="7" fill="#9a9a9a"/>
<polygon points="859.5,791 863.5,791 861.5,793.2" fill="#f4f4f4"/>
<polygon points="859.5,798 863.5,798 861.5,795.8" fill="#f4f4f4"/>
<g stroke="#4a4a4a" stroke-width="1.5"><line x1="858.3" y1="791.3" x2="864.7" y2="797.7"/><line x1="864.7" y1="791.3" x2="858.3" y2="797.7"/></g>
<g shape-rendering="crispEdges">
<rect x="0" y="902" width="875" height="8" fill="#f6f6f6"/>
<rect x="0" y="902" width="875" height="1" fill="#ffffff"/>
<rect x="3" y="904" width="870" height="5" fill="url(#dots902)"/>
<rect x="0" y="910" width="876" height="1" fill="#8c8c8c"/>
<rect x="874" y="902" width="2" height="9" fill="#8c8c8c"/>
</g>
<polygon points="13,908.5 17.5,904 22,908.5" fill="#b0b0b0"/>
<line x1="11.5" y1="908.8" x2="17.3" y2="903.3" stroke="#222" stroke-width="1.2"/>
<polygon points="28,904 37,904 32.5,908" fill="#a0a0a0"/>
<line x1="27" y1="903.6" x2="37.5" y2="903.6" stroke="#222" stroke-width="1.3"/>
<rect x="858" y="903" width="7" height="7" fill="#9a9a9a"/>
<polygon points="859.5,903 863.5,903 861.5,905.2" fill="#f4f4f4"/>
<polygon points="859.5,910 863.5,910 861.5,907.8" fill="#f4f4f4"/>
<g stroke="#4a4a4a" stroke-width="1.5"><line x1="858.3" y1="903.3" x2="864.7" y2="909.7"/><line x1="864.7" y1="903.3" x2="858.3" y2="909.7"/></g>
<g shape-rendering="crispEdges">
<rect x="5" y="800" width="808" height="100" fill="#fff"/>
<rect x="40" y="800" width="1" height="100" fill="#dadada"/>
<rect x="73" y="800" width="1" height="100" fill="#dadada"/>
<rect x="107" y="800" width="1" height="100" fill="#dadada"/>
<rect x="140" y="800" width="1" height="100" fill="#dadada"/>
<rect x="172" y="800" width="1" height="100" fill="#dadada"/>
<rect x="206" y="800" width="1" height="100" fill="#dadada"/>
<rect x="238" y="800" width="1" height="100" fill="#dadada"/>
<rect x="272" y="800" width="1" height="100" fill="#dadada"/>
<rect x="304" y="800" width="1" height="100" fill="#dadada"/>
<rect x="338" y="800" width="1" height="100" fill="#dadada"/>
<rect x="372" y="800" width="1" height="100" fill="#dadada"/>
<rect x="404" y="800" width="1" height="100" fill="#dadada"/>
<rect x="438" y="800" width="1" height="100" fill="#dadada"/>
<rect x="471" y="800" width="1" height="100" fill="#dadada"/>
<rect x="504" y="800" width="1" height="100" fill="#dadada"/>
<rect x="538" y="800" width="1" height="100" fill="#dadada"/>
<rect x="568" y="800" width="1" height="100" fill="#dadada"/>
<rect x="602" y="800" width="1" height="100" fill="#dadada"/>
<rect x="635" y="800" width="1" height="100" fill="#dadada"/>
<rect x="668" y="800" width="1" height="100" fill="#dadada"/>
<rect x="701" y="800" width="1" height="100" fill="#dadada"/>
<rect x="735" y="800" width="1" height="100" fill="#dadada"/>
<rect x="768" y="800" width="1" height="100" fill="#dadada"/>
<rect x="5" y="831" width="808" height="1" fill="#dadada"/>
<rect x="5" y="861" width="808" height="1" fill="#dadada"/>
<rect x="5" y="890" width="808" height="1" fill="#dadada"/>
<rect x="4" y="799" width="810" height="1" fill="#000"/><rect x="4" y="799" width="1" height="102" fill="#000"/><rect x="813" y="799" width="1" height="102" fill="#000"/><rect x="4" y="900" width="810" height="1" fill="#000"/>
<rect x="814" y="831" width="4" height="1" fill="#ff0000"/>
<rect x="814" y="890" width="4" height="1" fill="#ff0000"/>
</g>
<line x1="10" y1="861.5" x2="818" y2="861.5" stroke="#ff0000" stroke-width="1" stroke-dasharray="6 4" shape-rendering="crispEdges"/>
<polyline fill="none" stroke="#008a20" stroke-width="1" stroke-linejoin="round" shape-rendering="crispEdges" points="10.5,857.75 18.5,847.5 25.5,858.25 33.5,833.75 40.5,832 48.5,825.75 56.5,843.25 63.5,856.25 71.5,841.5 78.5,852 86.5,876.25 94.5,874.5 101.5,883.25 109.5,870 116.5,863.25 124.5,856.5 132.5,841.5 139.5,844 147.5,845.25 154.5,845.25 162.5,833.25 170.5,852 177.5,851.25 185.5,867.5 192.5,867 200.5,864 208.5,875.25 215.5,866.5 223.5,870.75 230.5,864.5 238.5,870.75 246.5,890 253.5,884.5 261.5,890 268.5,870.75 276.5,879 284.5,867.75 291.5,883.25 299.5,874.5 306.5,878.25 314.5,876.25 322.5,877.25 329.5,862.5 337.5,869.5 344.5,862.5 352.5,864 360.5,842.75 367.5,835.75 375.5,822 382.5,813.25 390.5,813.25 398.5,812 405.5,810.25 413.5,828.25 420.5,843.25 428.5,848 436.5,863.25 443.5,842.5 451.5,850 458.5,836.25 466.5,852.75 474.5,857.5 481.5,861.5 489.5,876.25 496.5,877.25 504.5,877.25 512.5,877.25"/>
<text x="5" y="810" font-size="10.7" fill="#009933" stroke="#009933">RSI(1) 14=44.252</text>
<g font-size="10.7" fill="#000" stroke="#000"><text x="819" y="835.5">60.000</text><text x="819" y="865.5">50.000</text><text x="819" y="895">40.000</text></g>
<rect x="816.5" y="871.5" width="53" height="11" fill="#fff" stroke="#ff0000" stroke-width="1" shape-rendering="crispEdges"/>
<text x="819" y="881" font-size="10.7" fill="#0000ff" stroke="#0000ff">44.252</text>
<g shape-rendering="crispEdges">
<rect x="5" y="912" width="808" height="98" fill="#fff"/>
<rect x="40" y="912" width="1" height="98" fill="#dadada"/>
<rect x="73" y="912" width="1" height="98" fill="#dadada"/>
<rect x="107" y="912" width="1" height="98" fill="#dadada"/>
<rect x="140" y="912" width="1" height="98" fill="#dadada"/>
<rect x="172" y="912" width="1" height="98" fill="#dadada"/>
<rect x="206" y="912" width="1" height="98" fill="#dadada"/>
<rect x="238" y="912" width="1" height="98" fill="#dadada"/>
<rect x="272" y="912" width="1" height="98" fill="#dadada"/>
<rect x="304" y="912" width="1" height="98" fill="#dadada"/>
<rect x="338" y="912" width="1" height="98" fill="#dadada"/>
<rect x="372" y="912" width="1" height="98" fill="#dadada"/>
<rect x="404" y="912" width="1" height="98" fill="#dadada"/>
<rect x="438" y="912" width="1" height="98" fill="#dadada"/>
<rect x="471" y="912" width="1" height="98" fill="#dadada"/>
<rect x="504" y="912" width="1" height="98" fill="#dadada"/>
<rect x="538" y="912" width="1" height="98" fill="#dadada"/>
<rect x="568" y="912" width="1" height="98" fill="#dadada"/>
<rect x="602" y="912" width="1" height="98" fill="#dadada"/>
<rect x="635" y="912" width="1" height="98" fill="#dadada"/>
<rect x="668" y="912" width="1" height="98" fill="#dadada"/>
<rect x="701" y="912" width="1" height="98" fill="#dadada"/>
<rect x="735" y="912" width="1" height="98" fill="#dadada"/>
<rect x="768" y="912" width="1" height="98" fill="#dadada"/>
<rect x="5" y="927" width="808" height="1" fill="#dadada"/>
<rect x="5" y="953" width="808" height="1" fill="#dadada"/>
<rect x="5" y="978" width="808" height="1" fill="#dadada"/>
<rect x="5" y="1003" width="808" height="1" fill="#dadada"/>
<rect x="4" y="911" width="810" height="1" fill="#000"/><rect x="4" y="911" width="1" height="100" fill="#000"/><rect x="813" y="911" width="1" height="100" fill="#000"/><rect x="4" y="1010" width="810" height="1" fill="#000"/>
<rect x="814" y="927" width="4" height="1" fill="#ff0000"/>
<rect x="814" y="953" width="4" height="1" fill="#ff0000"/>
<rect x="814" y="978" width="4" height="1" fill="#ff0000"/>
<rect x="814" y="1003" width="4" height="1" fill="#ff0000"/>
<rect x="8" y="931" width="4" height="72" fill="#ff0000"/>
<rect x="16" y="948" width="4" height="55" fill="#ff0000"/>
<rect x="23" y="932" width="4" height="71" fill="#ff0000"/>
<rect x="31" y="938" width="4" height="65" fill="#ff0000"/>
<rect x="38" y="930" width="4" height="73" fill="#ff0000"/>
<rect x="46" y="941" width="4" height="62" fill="#ff0000"/>
<rect x="54" y="940" width="4" height="63" fill="#ff0000"/>
<rect x="61" y="943" width="4" height="60" fill="#ff0000"/>
<rect x="69" y="943" width="4" height="60" fill="#ff0000"/>
<rect x="76" y="942" width="4" height="61" fill="#ff0000"/>
<rect x="84" y="921" width="4" height="82" fill="#ff0000"/>
<rect x="92" y="957" width="4" height="46" fill="#ff0000"/>
<rect x="99" y="1000" width="4" height="3" fill="#ff0000"/>
<rect x="107" y="996" width="4" height="7" fill="#ff0000"/>
<rect x="114" y="990" width="4" height="13" fill="#ff0000"/>
<rect x="122" y="992" width="4" height="11" fill="#ff0000"/>
<rect x="130" y="996" width="4" height="7" fill="#ff0000"/>
<rect x="137" y="968" width="4" height="35" fill="#ff0000"/>
<rect x="145" y="940" width="4" height="63" fill="#ff0000"/>
<rect x="152" y="953" width="4" height="50" fill="#ff0000"/>
<rect x="160" y="981" width="4" height="22" fill="#ff0000"/>
<rect x="168" y="972" width="4" height="31" fill="#ff0000"/>
<rect x="175" y="985" width="4" height="18" fill="#ff0000"/>
<rect x="183" y="927" width="4" height="76" fill="#ff0000"/>
<rect x="190" y="938" width="4" height="65" fill="#ff0000"/>
<rect x="198" y="942" width="4" height="61" fill="#ff0000"/>
<rect x="206" y="950" width="4" height="53" fill="#ff0000"/>
<rect x="213" y="943" width="4" height="60" fill="#ff0000"/>
<rect x="221" y="942" width="4" height="61" fill="#ff0000"/>
<rect x="228" y="953" width="4" height="50" fill="#ff0000"/>
<rect x="236" y="966" width="4" height="37" fill="#ff0000"/>
<rect x="244" y="955" width="4" height="48" fill="#ff0000"/>
<rect x="251" y="944" width="4" height="59" fill="#ff0000"/>
<rect x="259" y="943" width="4" height="60" fill="#ff0000"/>
<rect x="266" y="937" width="4" height="66" fill="#ff0000"/>
<rect x="274" y="939" width="4" height="64" fill="#ff0000"/>
<rect x="282" y="963" width="4" height="40" fill="#ff0000"/>
<rect x="289" y="966" width="4" height="37" fill="#ff0000"/>
<rect x="297" y="971" width="4" height="32" fill="#ff0000"/>
<rect x="304" y="976" width="4" height="27" fill="#ff0000"/>
<rect x="312" y="976" width="4" height="27" fill="#ff0000"/>
<rect x="320" y="975" width="4" height="28" fill="#ff0000"/>
<rect x="327" y="972" width="4" height="31" fill="#ff0000"/>
<rect x="335" y="972" width="4" height="31" fill="#ff0000"/>
<rect x="342" y="982" width="4" height="21" fill="#ff0000"/>
<rect x="350" y="983" width="4" height="20" fill="#ff0000"/>
<rect x="358" y="982" width="4" height="21" fill="#ff0000"/>
<rect x="365" y="984" width="4" height="19" fill="#ff0000"/>
<rect x="373" y="978" width="4" height="25" fill="#ff0000"/>
<rect x="380" y="978" width="4" height="25" fill="#ff0000"/>
<rect x="388" y="981" width="4" height="22" fill="#ff0000"/>
<rect x="396" y="976" width="4" height="27" fill="#ff0000"/>
<rect x="403" y="982" width="4" height="21" fill="#ff0000"/>
<rect x="411" y="972" width="4" height="31" fill="#ff0000"/>
<rect x="418" y="945" width="4" height="58" fill="#ff0000"/>
<rect x="426" y="940" width="4" height="63" fill="#ff0000"/>
<rect x="434" y="954" width="4" height="49" fill="#ff0000"/>
<rect x="441" y="938" width="4" height="65" fill="#ff0000"/>
<rect x="449" y="946" width="4" height="57" fill="#ff0000"/>
<rect x="456" y="959" width="4" height="44" fill="#ff0000"/>
<rect x="464" y="942" width="4" height="61" fill="#ff0000"/>
<rect x="472" y="947" width="4" height="56" fill="#ff0000"/>
<rect x="479" y="946" width="4" height="57" fill="#ff0000"/>
<rect x="487" y="949" width="4" height="54" fill="#ff0000"/>
<rect x="494" y="981" width="4" height="22" fill="#ff0000"/>
<rect x="502" y="965" width="4" height="38" fill="#ff0000"/>
<rect x="510" y="986" width="4" height="17" fill="#ff0000"/>
</g>
<line x1="10" y1="1003.5" x2="818" y2="1003.5" stroke="#ff0000" stroke-width="1" stroke-dasharray="6 4" shape-rendering="crispEdges"/>
<text x="5" y="922" font-size="10.7" fill="#ff0000" stroke="#ff0000">Volume=1,689,306</text>
<g font-size="10.7" fill="#000" stroke="#000"><text x="819" y="931.5">7,500,000</text><text x="819" y="957.5">5,000,000</text><text x="819" y="982.5">2,500,000</text><text x="819" y="1007.5">0</text></g>
<rect x="816.5" y="981.5" width="53" height="11" fill="#fff" stroke="#ff0000" stroke-width="1" shape-rendering="crispEdges"/>
<text x="819" y="991" font-size="10.7" fill="#0000ff" stroke="#0000ff">1,689,306</text>
<circle cx="9" cy="1028" r="7" fill="url(#ball)" stroke="#138a4a" stroke-width="0.6"/>
<rect x="19" y="1020" width="1" height="18" fill="#8a8a8a" shape-rendering="crispEdges"/>
<text y="1034" font-size="12" font-weight="bold" fill="#000" stroke="#000"><tspan x="25.5">08</tspan> <tspan x="42.8" font-size="11.5" textLength="6.6" lengthAdjust="spacingAndGlyphs">□</tspan><tspan x="50">.</tspan><tspan x="55" font-size="11.5" textLength="6.6" lengthAdjust="spacingAndGlyphs">□</tspan><tspan x="62.3">.</tspan> <tspan x="69.6">2556</tspan> <tspan x="100.7">18:39:37</tspan> <tspan x="151.2">ICT</tspan></text>
</svg>
</body></html>
